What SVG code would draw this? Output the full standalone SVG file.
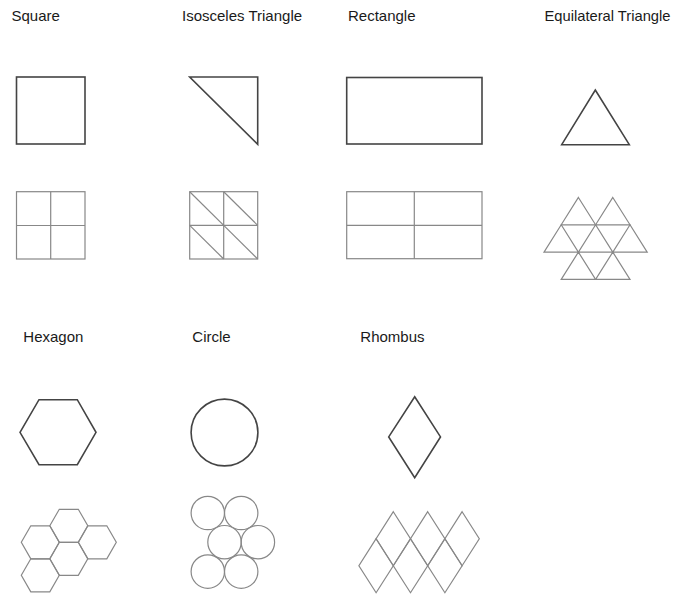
<svg xmlns="http://www.w3.org/2000/svg" width="676" height="594" viewBox="0 0 676 594">
<style>
.lbl{font-family:"Liberation Sans",Arial,sans-serif;font-size:15px;fill:#1a1a1a}
.s{fill:none;stroke:#444;stroke-width:1.6;stroke-linejoin:miter}
.t{fill:none;stroke:#888;stroke-width:1.2}
</style>
<rect width="676" height="594" fill="#fff"/>
<g id="square">
<text class="lbl" x="11.5" y="21">Square</text>
<rect class="s" x="16.5" y="77" width="68.5" height="67"/>
<g class="t"><rect x="16.5" y="191.7" width="68.5" height="67.3"/><line x1="50.7" y1="191.7" x2="50.7" y2="259"/><line x1="16.5" y1="225.5" x2="85" y2="225.5"/></g>
</g>
<g id="isosceles">
<text class="lbl" x="182" y="21">Isosceles Triangle</text>
<polygon class="s" points="189.7,77 257.7,77 257.7,144.3"/>
<g class="t"><rect x="189.7" y="191.7" width="68" height="67.3"/><line x1="223.7" y1="191.7" x2="223.7" y2="259"/><line x1="189.7" y1="225.4" x2="257.7" y2="225.4"/>
<line x1="189.7" y1="191.7" x2="223.7" y2="225.4"/><line x1="223.7" y1="191.7" x2="257.7" y2="225.4"/><line x1="189.7" y1="225.4" x2="223.7" y2="259"/><line x1="223.7" y1="225.4" x2="257.7" y2="259"/></g>
</g>
<g id="rectangle">
<text class="lbl" x="348" y="21">Rectangle</text>
<rect class="s" x="346.7" y="77.5" width="135.3" height="66.5"/>
<g class="t"><rect x="346.7" y="191.7" width="135.3" height="67"/><line x1="414.3" y1="191.7" x2="414.3" y2="258.7"/><line x1="346.7" y1="225.4" x2="482" y2="225.4"/></g>
</g>
<g id="equilateral">
<text class="lbl" x="544.5" y="21" textLength="126" lengthAdjust="spacingAndGlyphs">Equilateral Triangle</text>
<polygon class="s" points="595.3,90 629.3,144.7 561.7,144.7"/>
<g class="t">
<polygon points="578.4,197.5 595.6,224.8 561.2,224.8"/>
<polygon points="612.8,197.5 630,224.8 595.6,224.8"/>
<polygon points="561.2,224.8 578.4,252.1 544,252.1"/>
<polygon points="595.6,224.8 612.8,252.1 578.4,252.1"/>
<polygon points="630,224.8 647.2,252.1 612.8,252.1"/>
<polygon points="578.4,252.1 595.6,279.4 561.2,279.4"/>
<polygon points="612.8,252.1 630,279.4 595.6,279.4"/>
</g>
</g>
<g id="hexagon">
<text class="lbl" x="23.3" y="342">Hexagon</text>
<polygon class="s" points="20,432.3 39,399.7 77.3,399.7 96,432.3 77.3,464.7 39,464.7"/>
<g class="t">
<polygon points="49.8,525.8 59.3,509.3 78.3,509.3 87.8,525.8 78.3,542.3 59.3,542.3"/>
<polygon points="21.3,542.3 30.8,525.8 49.8,525.8 59.3,542.3 49.8,558.8 30.8,558.8"/>
<polygon points="78.3,542.3 87.8,525.8 106.8,525.8 116.3,542.3 106.8,558.8 87.8,558.8"/>
<polygon points="49.8,558.8 59.3,542.3 78.3,542.3 87.8,558.8 78.3,575.3 59.3,575.3"/>
<polygon points="21.3,575.3 30.8,558.8 49.8,558.8 59.3,575.3 49.8,591.8 30.8,591.8"/>
</g>
</g>
<g id="circle">
<text class="lbl" x="192.3" y="342">Circle</text>
<circle class="s" cx="224.5" cy="432.5" r="33.4"/>
<g class="t">
<circle cx="207.8" cy="513" r="16.7"/>
<circle cx="241.2" cy="513" r="16.7"/>
<circle cx="224.5" cy="542.2" r="16.7"/>
<circle cx="257.9" cy="542.2" r="16.7"/>
<circle cx="207.8" cy="571.6" r="16.7"/>
<circle cx="241.2" cy="571.6" r="16.7"/>
</g>
</g>
<g id="rhombus">
<text class="lbl" x="360.3" y="342">Rhombus</text>
<polygon class="s" points="414.7,396.7 440.5,436.9 414.7,477.7 388.7,436.9"/>
<g class="t">
<polygon points="393.3,511.7 410.5,538.7 393.3,565.7 376.1,538.7"/>
<polygon points="427.7,511.7 444.9,538.7 427.7,565.7 410.5,538.7"/>
<polygon points="462.1,511.7 479.3,538.7 462.1,565.7 444.9,538.7"/>
<polygon points="376.1,538.7 393.3,565.7 376.1,592.7 358.9,565.7"/>
<polygon points="410.5,538.7 427.7,565.7 410.5,592.7 393.3,565.7"/>
<polygon points="444.9,538.7 462.1,565.7 444.9,592.7 427.7,565.7"/>
</g>
</g>
</svg>
